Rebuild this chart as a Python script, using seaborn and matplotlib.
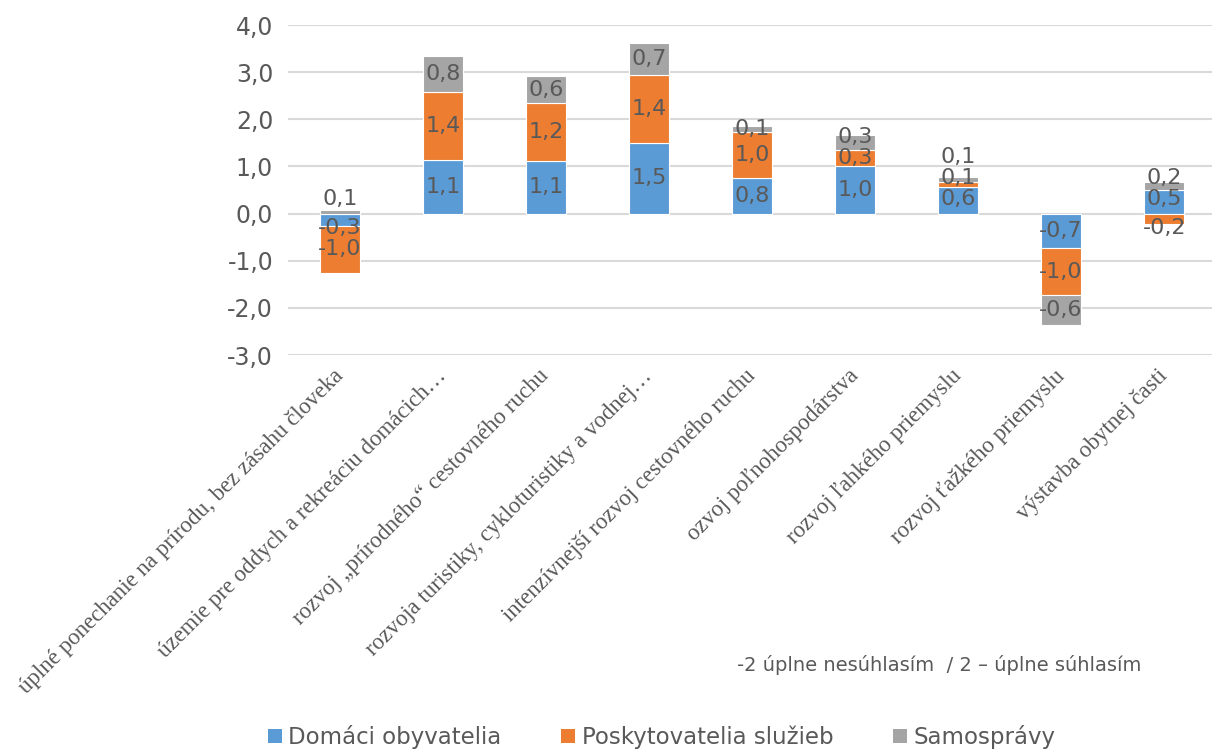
import matplotlib
matplotlib.use('Agg')
import matplotlib.pyplot as plt
from matplotlib.patches import Patch
import numpy as np
import seaborn as sns

# Kategórie a hodnoty (priemerné hodnotenie, škála -2 .. 2)
kategorie = [
    'úplné ponechanie na prírodu, bez zásahu človeka',
    'územie pre oddych a rekreáciu domácich…',
    'rozvoj „prírodného“ cestovného ruchu',
    'rozvoja turistiky, cykloturistiky a vodnej…',
    'intenzívnejší rozvoj cestovného ruchu',
    'ozvoj poľnohospodárstva',
    'rozvoj ľahkého priemyslu',
    'rozvoj ťažkého priemyslu',
    'výstavba obytnej časti',
]
domaci = [-0.26, 1.14, 1.12, 1.50, 0.76, 1.01, 0.56, -0.74, 0.49]
poskytovatelia = [-1.00, 1.44, 1.22, 1.44, 0.97, 0.34, 0.11, -0.99, -0.22]
samospravy = [0.08, 0.76, 0.58, 0.67, 0.13, 0.32, 0.10, -0.63, 0.17]

serie = ['Domáci obyvatelia', 'Poskytovatelia služieb', 'Samosprávy']
farby = ['#5B9BD5', '#ED7D31', '#A5A5A5']
yticks = [-3, -2, -1, 0, 1, 2, 3, 4]

sns.set_theme(style='white')
plt.rcParams['font.family'] = ['DejaVu Sans']
text_farba = '#595959'

fig = plt.figure(figsize=(12.12, 7.49), dpi=100)
ax = fig.add_axes([0.238, 0.526, 0.765, 0.4406])

# Excel-style stacking: kladné a záporné hodnoty sa skladajú zvlášť
pos_base = np.zeros(len(kategorie))
neg_base = np.zeros(len(kategorie))
popisy = []  # (x, hodnota, stred segmentu)
for nazov, hodnoty, farba in zip(serie, [domaci, poskytovatelia, samospravy], farby):
    v = np.array(hodnoty)
    bottom = np.where(v >= 0, pos_base, neg_base)
    sns.barplot(x=kategorie, y=v, order=kategorie, bottom=bottom, color=farba,
                width=0.39, errorbar=None, edgecolor='white', linewidth=0.8,
                saturation=1, ax=ax)
    for i, (b, h) in enumerate(zip(bottom, v)):
        popisy.append((i, h, b + h / 2))
    pos_base = pos_base + np.where(v >= 0, v, 0)
    neg_base = neg_base + np.where(v < 0, v, 0)

# popisy hodnôt - stred segmentu, s minimálnym odstupom
odstup = 0.45
for i in range(len(kategorie)):
    hore, dole = 0.3 - odstup, -0.3 + odstup
    for (x, h, y) in [p for p in popisy if p[0] == i]:
        if h >= 0:
            y = max(y, hore + odstup)
            hore = y
        else:
            y = min(y, dole - odstup)
            dole = y
        ax.text(x, y, f'{h:.1f}'.replace('.', ','), ha='center', va='center',
                fontsize=16, color=text_farba)

ax.set_ylim(-3, 4)
ax.set_xlim(-0.5, len(kategorie) - 0.5)
ax.set_yticks(yticks)
ax.set_yticklabels([f'{t:.1f}'.replace('.', ',') for t in yticks],
                   fontsize=17, color=text_farba)
ax.yaxis.grid(True, color='#D9D9D9', linewidth=1.5)
ax.set_axisbelow(True)
for s in ax.spines.values():
    s.set_visible(False)
ax.tick_params(axis='both', length=0)
ax.tick_params(axis='y', pad=11)
ax.tick_params(axis='x', pad=13)
ax.set_xlabel('')
ax.set_ylabel('')
ax.set_xticks(range(len(kategorie)))
ax.set_xticklabels(kategorie, rotation=45, ha='right', va='center',
                   rotation_mode='anchor', fontsize=16.5,
                   family=['Liberation Serif', 'DejaVu Serif'], color=text_farba)

fig.text(0.608, 0.112, '-2 úplne nesúhlasím  / 2 – úplne súhlasím',
         fontsize=14, color=text_farba, va='center', ha='left')

handles = [Patch(facecolor=f, edgecolor='none', label=n) for n, f in zip(serie, farby)]
leg = fig.legend(handles=handles, loc='center', bbox_to_anchor=(0.546, 0.016),
                 ncol=3, frameon=False, fontsize=16.5, handlelength=0.6,
                 handleheight=0.6, handletextpad=0.3, columnspacing=2.6,
                 labelcolor=text_farba)

fig.savefig('out.png', dpi=100)
